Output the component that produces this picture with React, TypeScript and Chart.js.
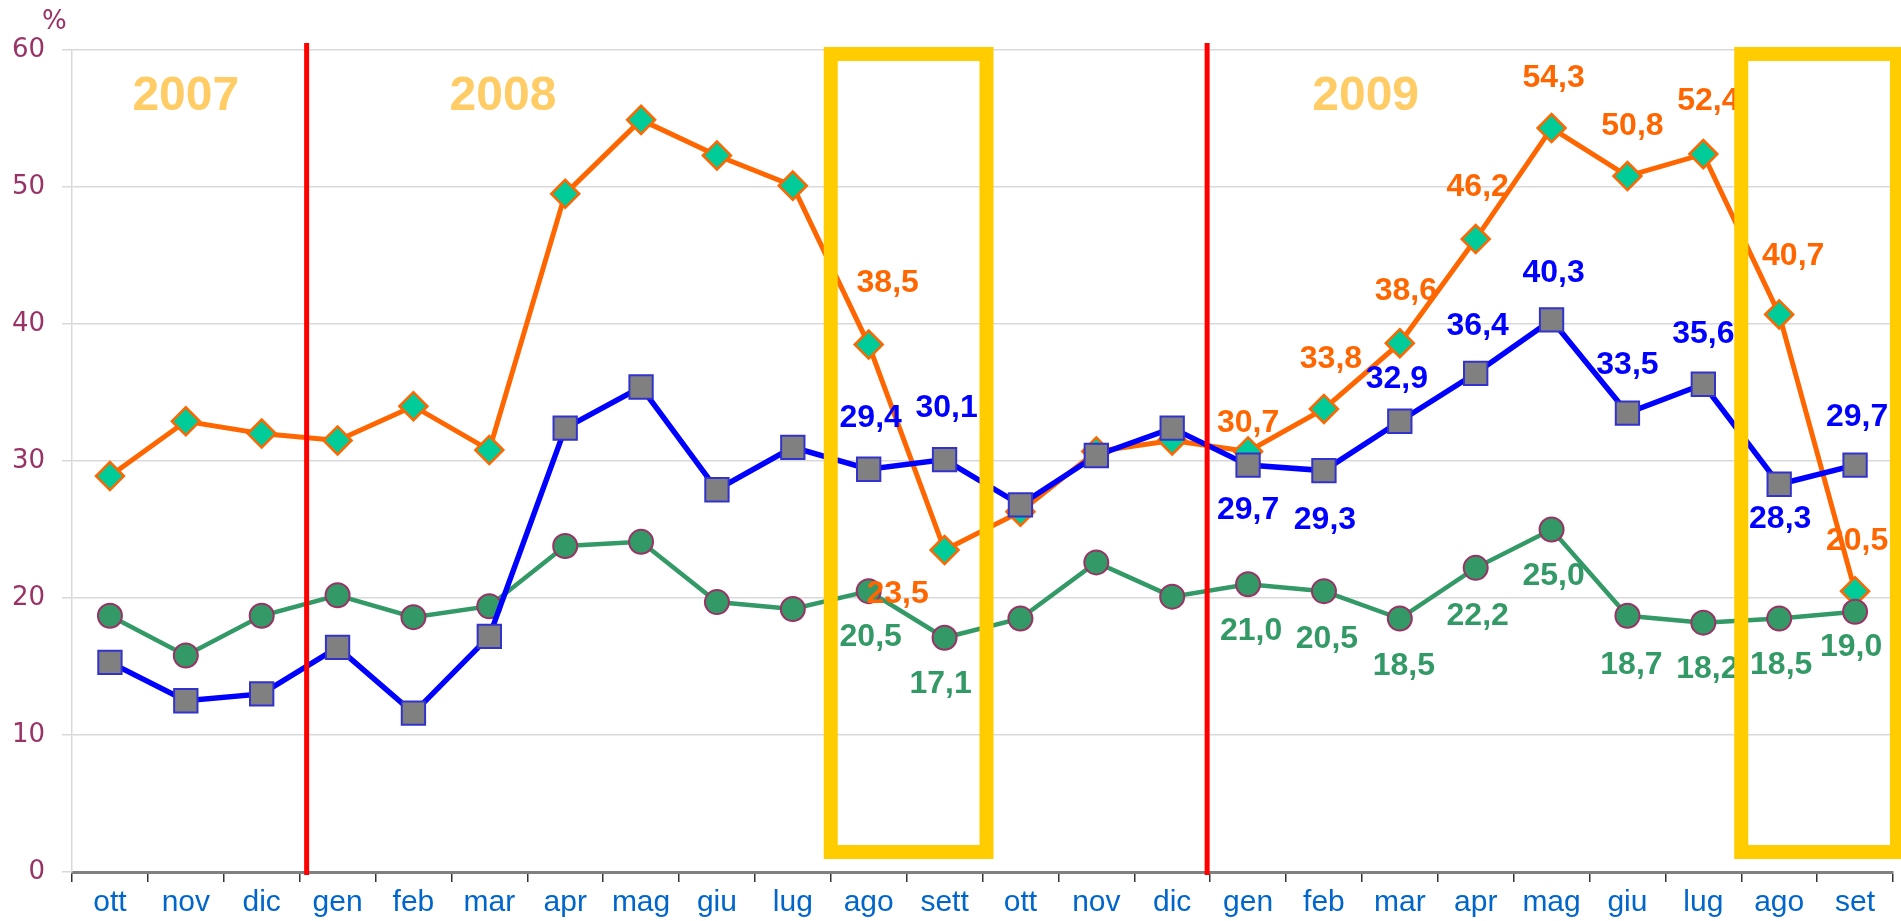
import React, { useEffect, useRef } from 'react';
import { Chart, registerables } from 'chart.js';

Chart.register(...registerables);

// ---- data ----
const months = ['ott', 'nov', 'dic', 'gen', 'feb', 'mar', 'apr', 'mag', 'giu', 'lug', 'ago', 'sett',
  'ott', 'nov', 'dic', 'gen', 'feb', 'mar', 'apr', 'mag', 'giu', 'lug', 'ago', 'set'];
const seriesOrange = [28.9, 32.9, 32.0, 31.5, 34.0, 30.8, 49.5, 54.9, 52.3, 50.1, 38.5, 23.5,
  26.3, 30.7, 31.5, 30.7, 33.8, 38.6, 46.2, 54.3, 50.8, 52.4, 40.7, 20.5];
const seriesBlue = [15.3, 12.5, 13.0, 16.4, 11.6, 17.2, 32.4, 35.4, 27.9, 31.0, 29.4, 30.1,
  26.8, 30.4, 32.4, 29.7, 29.3, 32.9, 36.4, 40.3, 33.5, 35.6, 28.3, 29.7];
const seriesGreen = [18.7, 15.8, 18.7, 20.2, 18.6, 19.4, 23.8, 24.1, 19.7, 19.2, 20.5, 17.1,
  18.5, 22.6, 20.1, 21.0, 20.5, 18.5, 22.2, 25.0, 18.7, 18.2, 18.5, 19.0];
const yMin = 0;
const yMax = 60;
const yStep = 10;
const yearLabels = ['2007', '2008', '2009'];
const yearLabelAt = [1.0, 5.18, 16.55]; // category position
const yearSeparatorsAfter = [2, 14]; // vertical red lines after these categories
const highlightRanges = [[10, 11], [22, 23]]; // yellow boxes

// ---- label placement (pixel offsets from the point; null = no label) ----
type Off = [number, number] | null;
const N: Off = null;
const orangeLabelOff: Off[] = [N, N, N, N, N, N, N, N, N, N, [19, -61], [-47, 44],
  N, N, N, [0, -28], [7, -50], [6, -52], [2, -52], [2, -50], [5, -50], [5, -53], [14, -58], [2, -50]];
const blueLabelOff: Off[] = [N, N, N, N, N, N, N, N, N, N, [2, -51], [2, -51],
  N, N, N, [0, 45], [1, 50], [-3, -42], [2, -47], [2, -47], [0, -48], [0, -50], [1, 35], [2, -48]];
const greenLabelOff: Off[] = [N, N, N, N, N, N, N, N, N, N, [2, 46], [-4, 46],
  N, N, N, [3, 47], [3, 48], [4, 48], [2, 48], [2, 47], [4, 49], [4, 47], [2, 47], [-4, 35]];

const ORANGE = '#ff6600';
const BLUE = '#0000ff';
const GREEN = '#339966';
const MAROON = '#993366';

const fmt = (v: number) => v.toFixed(1).replace('.', ',');

const overlayPlugin = {
  id: 'overlay',
  beforeDatasetsDraw(chart: any) {
    const { ctx, scales } = chart;
    const x = scales.x, y = scales.y;
    ctx.save();
    ctx.font = 'bold 48px "Liberation Sans", Arial, sans-serif';
    ctx.fillStyle = '#ffcc66';
    ctx.textAlign = 'center';
    ctx.textBaseline = 'middle';
    yearLabels.forEach((t, i) => {
      ctx.fillText(t, x.getPixelForValue(yearLabelAt[i]), y.getPixelForValue(56.6));
    });
    ctx.restore();
  },
  afterDatasetsDraw(chart: any) {
    const { ctx } = chart;
    const offs = [blueLabelOff, greenLabelOff, orangeLabelOff];
    const cols = [BLUE, GREEN, ORANGE];
    ctx.save();
    ctx.font = 'bold 32px "Liberation Sans", Arial, sans-serif';
    ctx.textAlign = 'center';
    ctx.textBaseline = 'middle';
    chart.data.datasets.forEach((ds: any, di: number) => {
      const meta = chart.getDatasetMeta(di);
      ctx.fillStyle = cols[di];
      meta.data.forEach((pt: any, i: number) => {
        const o = offs[di][i];
        if (!o) return;
        ctx.fillText(fmt(ds.data[i]), pt.x + o[0], pt.y + o[1]);
      });
    });
    ctx.restore();
  },
  afterDraw(chart: any) {
    const { ctx, scales, chartArea } = chart;
    const x = scales.x;
    ctx.save();
    // red year separators
    const nudges = [7, -3];
    ctx.strokeStyle = '#ff0000';
    ctx.lineWidth = 5;
    yearSeparatorsAfter.forEach((b, i) => {
      const px = x.getPixelForValue(b + 0.5) + nudges[i];
      ctx.beginPath();
      ctx.moveTo(px, chartArea.top - 7);
      ctx.lineTo(px, chartArea.bottom + 3);
      ctx.stroke();
    });
    // yellow highlight boxes
    ctx.strokeStyle = '#ffcc00';
    ctx.lineWidth = 14;
    highlightRanges.forEach(([a, b]) => {
      const l = x.getPixelForValue(a - 0.5);
      const r = x.getPixelForValue(b + 0.5) + 4;
      const t = chartArea.top + 4;
      const bt = chartArea.bottom - 20;
      ctx.strokeRect(l, t, r - l, bt - t);
    });
    // % unit
    ctx.fillStyle = MAROON;
    ctx.font = '26px "DejaVu Sans", sans-serif';
    ctx.textAlign = 'left';
    ctx.textBaseline = 'middle';
    ctx.fillText('%', 42, 22);
    ctx.restore();
  },
};

export default function App() {
  const ref = useRef<HTMLCanvasElement | null>(null);
  useEffect(() => {
    document.body.style.margin = '0';
    const canvas = ref.current;
    if (!canvas) return;
    const chart = new Chart(canvas, {
      type: 'line',
      data: {
        labels: months,
        datasets: [
          {
            label: 'blue',
            data: seriesBlue,
            borderColor: BLUE,
            borderWidth: 5.5,
            pointStyle: 'rect',
            pointRadius: 16.5,
            pointHoverRadius: 16.5,
            pointBackgroundColor: '#808080',
            pointBorderColor: '#3333cc',
            pointBorderWidth: 2,
            tension: 0,
          },
          {
            label: 'green',
            data: seriesGreen,
            borderColor: GREEN,
            borderWidth: 4.5,
            pointStyle: 'circle',
            pointRadius: 12,
            pointHoverRadius: 12,
            pointBackgroundColor: GREEN,
            pointBorderColor: MAROON,
            pointBorderWidth: 2,
            tension: 0,
          },
          {
            label: 'orange',
            data: seriesOrange,
            borderColor: ORANGE,
            borderWidth: 5,
            pointStyle: 'rectRot',
            pointRadius: 14,
            pointHoverRadius: 14,
            pointBackgroundColor: '#00cc99',
            pointBorderColor: ORANGE,
            pointBorderWidth: 2.5,
            tension: 0,
          },
        ],
      },
      options: {
        responsive: false,
        animation: false,
        devicePixelRatio: 1,
        layout: { autoPadding: false, padding: { top: 50, right: 8, bottom: 0, left: 0 } },
        plugins: {
          legend: { display: false },
          tooltip: { enabled: false },
          title: { display: false },
        },
        scales: {
          x: {
            type: 'category',
            offset: true,
            grid: {
              display: true,
              offset: true,
              drawOnChartArea: false,
              drawTicks: true,
              tickLength: 10,
              color: '#333333',
              lineWidth: 1.5,
            },
            border: { display: true, color: '#808080', width: 3 },
            ticks: {
              color: '#0066cc',
              font: { family: '"Liberation Sans", Arial, sans-serif', size: 30 },
              padding: 3,
              maxRotation: 0,
              minRotation: 0,
              autoSkip: false,
            },
            afterFit: (s: any) => { s.height = 49; s.paddingLeft = 0; s.paddingRight = 0; },
          },
          y: {
            min: yMin,
            max: yMax,
            ticks: {
              stepSize: yStep,
              color: MAROON,
              font: { family: '"DejaVu Sans", sans-serif', size: 26 },
              padding: 17,
            },
            grid: { color: '#d9d9d9', tickLength: 10, lineWidth: 1.5 },
            border: { display: true, color: '#d9d9d9', width: 1.5 },
            afterFit: (s: any) => { s.width = 72; },
          },
        },
      },
      plugins: [overlayPlugin],
    });
    return () => chart.destroy();
  }, []);
  return (
    <div style={{ position: 'absolute', left: 0, top: 0, width: 1901, height: 921 }}>
      <canvas ref={ref} width={1901} height={921} style={{ display: 'block' }} />
    </div>
  );
}
